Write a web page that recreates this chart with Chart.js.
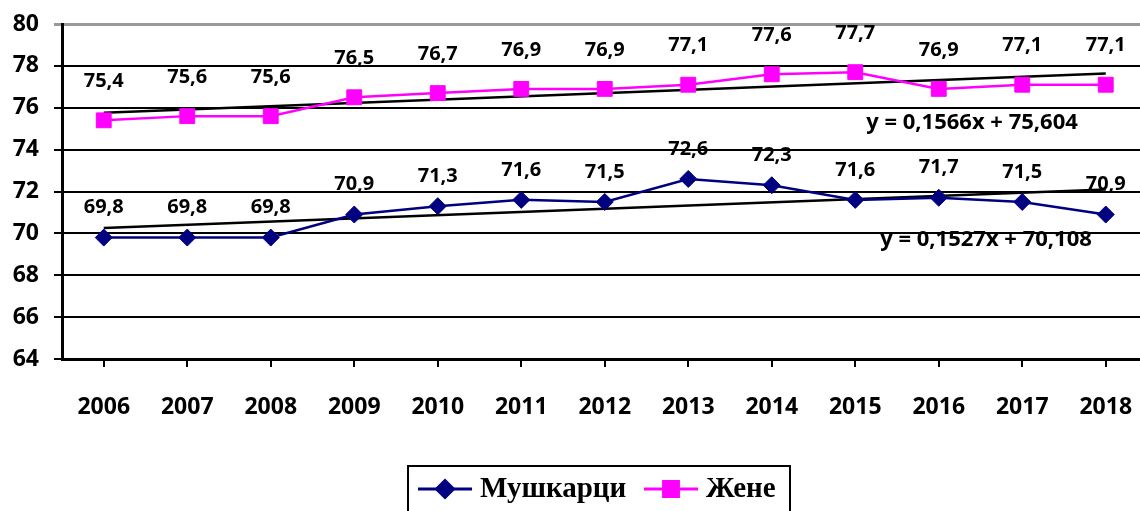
<!DOCTYPE html>
<html>
<head>
<meta charset="utf-8">
<script src="https://cdn.jsdelivr.net/npm/chart.js@4/dist/chart.umd.min.js"></script>
<style>
  html, body { margin: 0; padding: 0; background: #fff; overflow: hidden; }
  #wrap { width: 1159px; height: 511px; }
</style>
</head>
<body>
<div id="wrap"><canvas id="grafik" width="1159" height="511"></canvas></div>
<script>
// godine
const godine = ['2006', '2007', '2008', '2009', '2010', '2011', '2012', '2013', '2014', '2015', '2016', '2017', '2018'];
// ocekivano trajanje zivota
const muskarci = [69.8, 69.8, 69.8, 70.9, 71.3, 71.6, 71.5, 72.6, 72.3, 71.6, 71.7, 71.5, 70.9];
const zene = [75.4, 75.6, 75.6, 76.5, 76.7, 76.9, 76.9, 77.1, 77.6, 77.7, 76.9, 77.1, 77.1];
// linije trenda, vrijednost na prvoj i zadnjoj godini
const trendMuskarci = [70.26, 72.09];
const trendZene = [75.76, 77.64];
const jednacinaMuskarci = 'y = 0,1527x + 70,108';
const jednacinaZene = 'y = 0,1566x + 75,604';
const yTicks = [64, 66, 68, 70, 72, 74, 76, 78, 80];

const plava = '#000080';
const roza = '#ff00ff';
const FONT = '"Open Sans"';

function trendNiz(t) {
    let niz = godine.map(() => null);
    niz[0] = t[0];
    niz[niz.length - 1] = t[1];
    return niz;
}

function zarez(v) {
    return v.toFixed(1).replace('.', ',');
}

const oznake = {
    id: 'oznake',
    afterDatasetsDraw(chart) {
        let ctx = chart.ctx;
        ctx.save();
        ctx.fillStyle = '#000';
        ctx.textAlign = 'center';
        ctx.textBaseline = 'middle';
        ctx.font = 'bold 20px ' + FONT;
        [[0, 30], [1, 39]].forEach(([i, pomak]) => {
            let meta = chart.getDatasetMeta(i);
            meta.data.forEach((p, j) => {
                ctx.fillText(zarez(chart.data.datasets[i].data[j]), p.x, p.y - pomak);
            });
        });
        // jednacine trenda
        ctx.font = 'bold 22px ' + FONT;
        ctx.fillText(jednacinaZene, 972, 123);
        ctx.fillText(jednacinaMuskarci, 986, 240);

        // legenda
        ctx.strokeStyle = '#000';
        ctx.lineWidth = 2;
        ctx.strokeRect(408, 466, 382, 60);
        ctx.font = 'bold 29px "Liberation Serif"';
        ctx.textAlign = 'left';
        let stavke = [[0, 418, 'Мушкарци'], [1, 644, 'Жене']];
        stavke.forEach(([i, x, tekst]) => {
            let ds = chart.data.datasets[i];
            ctx.strokeStyle = ds.borderColor;
            ctx.lineWidth = 3;
            ctx.beginPath();
            ctx.moveTo(x, 489);
            ctx.lineTo(x + 54, 489);
            ctx.stroke();
            Chart.helpers.drawPoint(ctx, {pointStyle: ds.pointStyle, radius: ds.pointRadius, borderWidth: 1}, x + 27, 489);
            ctx.fillStyle = ds.borderColor;
            ctx.fill();
            ctx.fillStyle = '#000';
            ctx.fillText(tekst, x + 62, 490);
        });
        ctx.restore();
    }
};

let config = {
    type: 'line',
    data: {
        labels: godine,
        datasets: [{
            label: 'Мушкарци',
            data: muskarci,
            borderColor: plava,
            backgroundColor: plava,
            borderWidth: 2.5,
            pointStyle: 'rectRot',
            pointRadius: 8.5,
            pointBorderWidth: 1,
            tension: 0
        }, {
            label: 'Жене',
            data: zene,
            borderColor: roza,
            backgroundColor: roza,
            borderWidth: 2.5,
            pointStyle: 'rect',
            pointRadius: 10.5,
            pointBorderWidth: 1,
            tension: 0
        }, {
            label: 'trend m',
            data: trendNiz(trendMuskarci),
            borderColor: '#000',
            borderWidth: 2.5,
            pointRadius: 0,
            spanGaps: true
        }, {
            label: 'trend z',
            data: trendNiz(trendZene),
            borderColor: '#000',
            borderWidth: 2.5,
            pointRadius: 0,
            spanGaps: true
        }]
    },
    options: {
        responsive: false,
        animation: false,
        layout: { padding: { top: 24, right: 0, bottom: 0, left: 0 } },
        plugins: {
            legend: { display: false },
            tooltip: { enabled: false }
        },
        scales: {
            x: {
                offset: true,
                grid: { drawOnChartArea: false, color: '#000', lineWidth: 2, tickLength: 8 },
                border: { color: '#000', width: 3 },
                ticks: { color: '#000', font: { family: FONT, weight: 'bold', size: 23 }, padding: 27, maxRotation: 0 },
                afterFit: (s) => { s.height = 152; s.paddingLeft = 0; s.paddingRight = 0; }
            },
            y: {
                min: 64,
                max: 80,
                afterBuildTicks: (s) => { s.ticks = yTicks.map(v => ({value: v})); },
                grid: {
                    color: (c) => c.tick && c.tick.value === 80 ? '#999' : '#000',
                    lineWidth: (c) => c.tick && c.tick.value === 80 ? 3 : 2,
                    tickLength: 8
                },
                border: { color: '#000', width: 3 },
                ticks: { color: '#000', font: { family: FONT, weight: 'bold', size: 23 }, padding: 15 },
                afterFit: (s) => { s.width = 62; s.paddingTop = 0; s.paddingBottom = 0; }
            }
        }
    },
    plugins: [oznake]
};

new Chart(document.getElementById('grafik'), config);
</script>
</body>
</html>
